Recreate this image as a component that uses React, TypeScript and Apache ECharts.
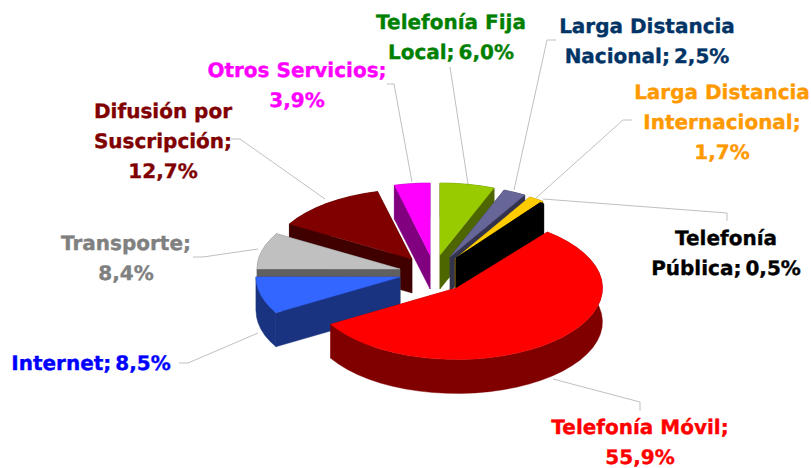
import React, { useEffect, useRef } from "react";
import * as echarts from "echarts";

// Data, in pie order (clockwise from 12 o'clock)
const categories = ["Telefonía Fija Local", "Larga Distancia Nacional", "Larga Distancia Internacional", "Telefonía Pública", "Telefonía Móvil", "Internet", "Transporte", "Difusión por Suscripción", "Otros Servicios"];
const shares = [6.0, 2.5, 1.7, 0.5, 55.9, 8.5, 8.4, 12.7, 3.9];
const labelTexts = [
  "Telefonía Fija\nLocal;\u20096,0%",
  "Larga Distancia\nNacional;\u20092,5%",
  "Larga Distancia\nInternacional;\n1,7%",
  "Telefonía\nPública;\u20090,5%",
  "Telefonía Móvil;\n55,9%",
  "Internet;\u20098,5%",
  "Transporte;\n8,4%",
  "Difusión por\nSuscripción;\n12,7%",
  "Otros Servicios;\n3,9%",
];

// Style
const topColors = ["#99CC00", "#666699", "#FFCC00", "#000000", "#FF0000", "#3366FF", "#C0C0C0", "#800000", "#FF00FF"];
const wallColors = ["#4D6600", "#33334D", "#806600", "#000000", "#800000", "#1A3380", "#606060", "#400000", "#800080"];
const labelColors = ["#008000", "#003366", "#FF9900", "#000000", "#FF0000", "#0000FF", "#808080", "#800000", "#FF00FF"];

// Layout
const center = [435, 268];
const explodeX = [5, 15, 20, 21, 21.5, -35, -35, -23, -5];
const explodeY = [-13, -11, -9, -10, 20, 9, 1, -9, -13];
const radii = [147, 147, 147, 141, 146, 144, 143, 142, 147];
const flatten = 72 / 147;
const depth = 34;
const drawRank = [1, 2, 3, 4, 8, 7, 6, 5, 0];
const labelX = [451, 647, 722, 726, 640, 91, 126, 163, 297];
const labelY = [37, 41, 122, 253, 442, 363, 258, 141, 85];
const leaders = [
  [[450, 67], [468, 184]],
  [[556, 40], [547, 40], [514, 190]],
  [[632, 120], [623, 120], [536, 198]],
  [[543, 199], [727, 213], [727, 221]],
  [[553, 379], [640, 402], [640, 411]],
  [[179, 363], [188, 363], [258, 333]],
  [[193, 257], [203, 257], [258, 249]],
  [[231, 139], [240, 139], [325, 199]],
  [[387, 84], [394, 84], [412, 182]],
];

const total = shares.reduce((a, b) => a + b, 0);
const FONT = '"DejaVu Sans", sans-serif';

function renderSlice(params: any, api: any) {
  const i = params.dataIndex;
  let before = 0;
  for (let k = 0; k < i; k++) before += shares[k];
  const a0 = (before / total) * Math.PI * 2;
  const a1 = ((before + api.value(0)) / total) * Math.PI * 2;
  const ax = center[0] + explodeX[i];
  const ay = center[1] + explodeY[i];
  const r = radii[i];
  const pt = (a: number, dy = 0) => [ax + r * Math.sin(a), ay - r * flatten * Math.cos(a) + dy];
  const n = Math.max(2, Math.ceil((a1 - a0) / 0.1));
  const arc: number[][] = [];
  const low: number[][] = [];
  for (let s = 0; s <= n; s++) {
    const a = a0 + ((a1 - a0) * s) / n;
    arc.push(pt(a));
    low.push(pt(a, depth));
  }
  const apex = [ax, ay];
  const apexLow = [ax, ay + depth];
  const z = drawRank[i] * 10;
  const poly = (points: number[][], fill: string, dz: number) => ({
    type: "polygon",
    z2: z + dz,
    shape: { points },
    style: { fill, stroke: fill, lineWidth: 0.4 },
    silent: true,
  });
  const children: any[] = [
    poly(arc.concat(low.slice().reverse()), wallColors[i], 0),
    poly([apex, pt(a1), pt(a1, depth), apexLow], wallColors[i], 1),
    poly([apex, pt(a0), pt(a0, depth), apexLow], wallColors[i], 2),
    poly([apex].concat(arc), topColors[i], 3),
  ];
  return { type: "group", children };
}

export default function App() {
  const ref = useRef<HTMLDivElement>(null);
  useEffect(() => {
    document.body.style.margin = "0";
    const chart = echarts.init(ref.current!, undefined, { renderer: "svg" });
    chart.setOption({
      animation: false,
      backgroundColor: "#FFFFFF",
      tooltip: { show: false },
      series: [
        {
          type: "custom",
          coordinateSystem: "none",
          renderItem: renderSlice,
          data: shares.map((v, i) => ({ name: categories[i], value: v })),
          silent: true,
        },
      ],
      graphic: {
        elements: [
          ...leaders.map((points) => ({
            type: "polyline",
            z: 1,
            silent: true,
            shape: { points },
            style: { stroke: "#C0C0C0", lineWidth: 1, fill: "none" },
          })),
          ...labelTexts.map((text, i) => ({
            type: "text",
            x: labelX[i],
            y: labelY[i],
            z: 5,
            silent: true,
            style: {
              text,
              fill: labelColors[i],
              stroke: labelColors[i],
              lineWidth: 0.35,
              font: `bold 20px ${FONT}`,
              lineHeight: 30,
              align: "center",
              verticalAlign: "middle",
            },
          })),
        ],
      },
    });
    return () => chart.dispose();
  }, []);
  return <div ref={ref} style={{ width: 811, height: 468, textRendering: "geometricPrecision" }} />;
}
